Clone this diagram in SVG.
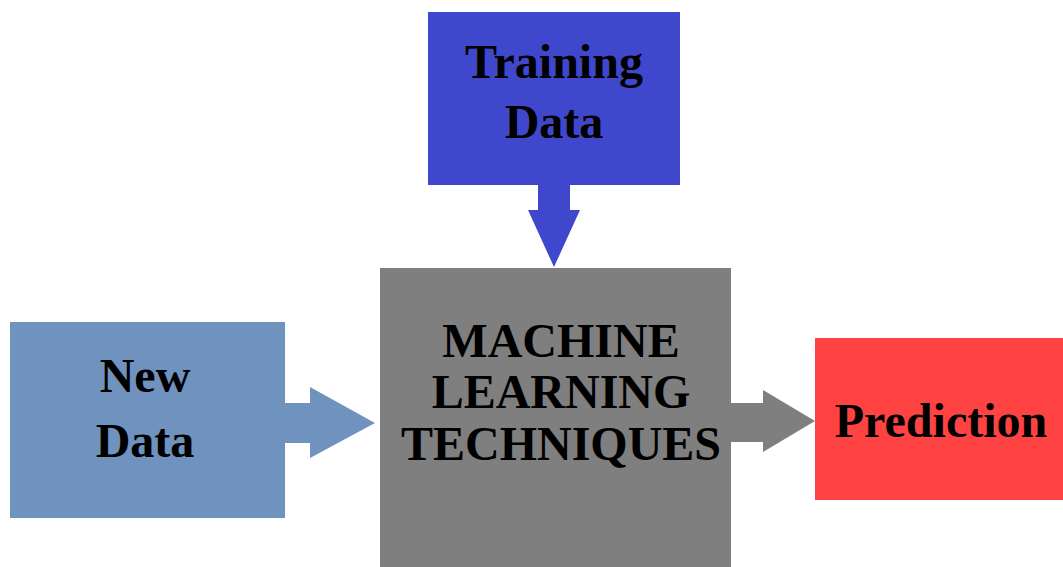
<svg xmlns="http://www.w3.org/2000/svg" width="1063" height="567" viewBox="0 0 1063 567">
  <style>
    .lbl { font-family: "Liberation Serif", "Times New Roman", serif; font-weight: bold; font-size: 48px; fill: #000; text-anchor: middle; }
  </style>
  <rect x="0" y="0" width="1063" height="567" fill="#ffffff"/>

  <g id="connectors">
    <!-- Training Data -> ML -->
    <polygon points="538,185 570,185 570,210 580,210 554,267 528,210 538,210" fill="#3f48cc"/>
    <!-- New Data -> ML -->
    <polygon points="285,403 310,403 310,387 375,423 310,458 310,443 285,443" fill="#7092be"/>
    <!-- ML -> Prediction -->
    <polygon points="731,403 763,403 763,390 815,421 763,452 763,442 731,442" fill="#7f7f7f"/>
  </g>

  <g id="training-data">
    <rect x="428" y="12" width="252" height="173" fill="#3f48cc"/>
    <text class="lbl" x="554" y="78">Training</text>
    <text class="lbl" x="554" y="138">Data</text>
  </g>

  <g id="new-data">
    <rect x="10" y="322" width="275" height="196" fill="#7092be"/>
    <text class="lbl" x="145" y="392">New</text>
    <text class="lbl" x="145" y="457">Data</text>
  </g>

  <g id="ml-techniques">
    <rect x="380" y="268" width="351" height="299" fill="#7f7f7f"/>
    <text class="lbl" x="561" y="357">MACHINE</text>
    <text class="lbl" x="561" y="408">LEARNING</text>
    <text class="lbl" x="561" y="460">TECHNIQUES</text>
  </g>

  <g id="prediction">
    <rect x="815" y="338" width="248" height="162" fill="#ff4242"/>
    <text class="lbl" x="941" y="437">Prediction</text>
  </g>
</svg>
